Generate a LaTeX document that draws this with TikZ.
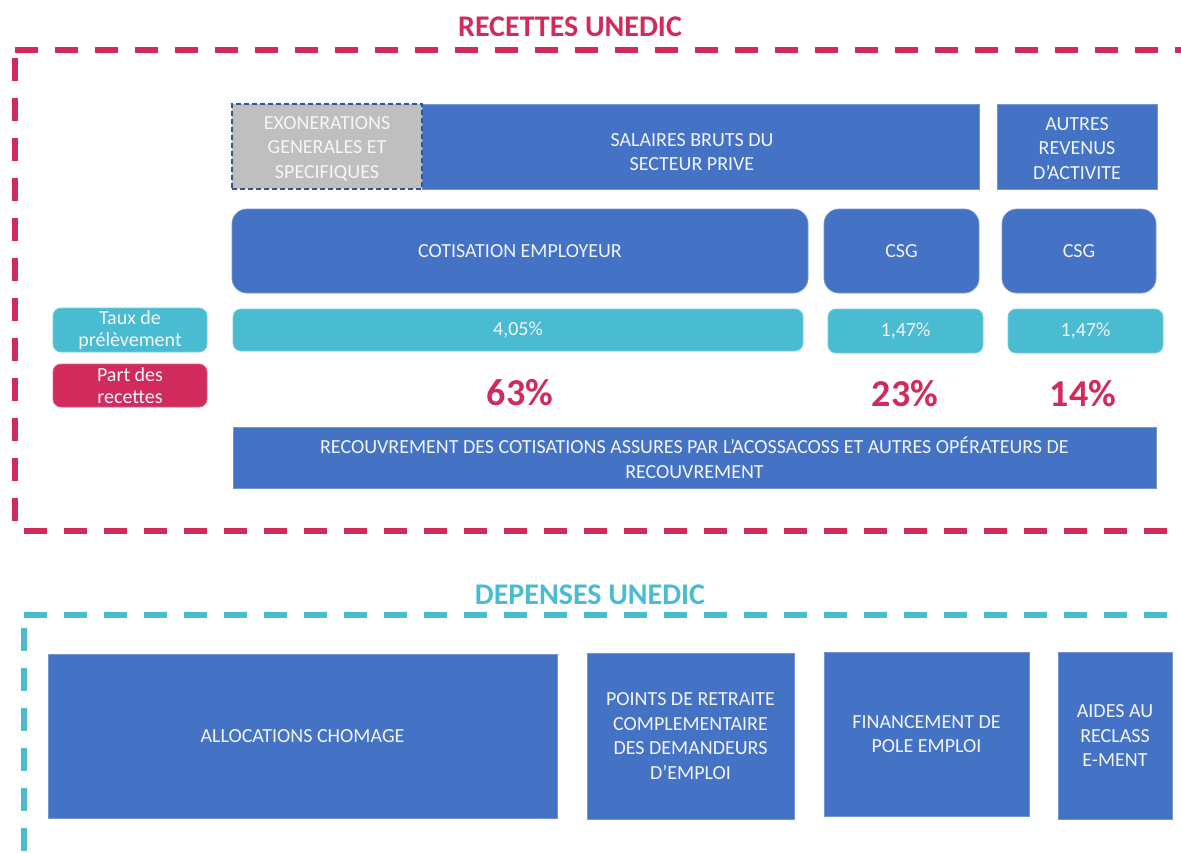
\documentclass[tikz,border=0pt]{standalone}
\usepackage{fontspec}
\setmainfont{Carlito}
\definecolor{ublue}{HTML}{4472C4}
\definecolor{uteal}{HTML}{4ABCD1}
\definecolor{ured}{HTML}{D12B5E}
\definecolor{ugray}{HTML}{BFBFBF}
\definecolor{udark}{HTML}{2F5597}
\definecolor{utxt}{HTML}{F2F4FA}
\tikzset{
  body/.style={font=\fontsize{20}{24.5}\selectfont, align=center, text=utxt},
  bluebox/.style={body, fill=ublue, draw=ublue!75!white, line width=0.8pt, inner sep=0pt},
  roundbox/.style={bluebox, rounded corners=15pt},
  tealbox/.style={body, fill=uteal, draw=uteal!75!white, line width=0.8pt, rounded corners=8pt, inner sep=0pt},
  redbox/.style={body, fill=ured, draw=ured!75!white, line width=0.8pt, rounded corners=8pt, inner sep=0pt},
  exonbox/.style={body, fill=ugray, draw=udark, dash pattern=on 5pt off 3pt, line width=2pt, inner sep=0pt, text=white!93!gray},
  pct/.style={font=\fontsize{38}{40}\selectfont\bfseries, text=ured},
  title/.style={font=\fontsize{30}{32}\selectfont\bfseries},
  frame/.style={line width=5.5pt, dash pattern=on 23pt off 17pt}
}
\begin{document}
\begin{tikzpicture}[x=1pt,y=-1pt]
\useasboundingbox (0,0) rectangle (1181,852);
% recettes frame
\node[title, text=ured] (t1) at (570,27) {RECETTES UNEDIC};
\coordinate (rA) at (15,50);
\coordinate (rB) at (1181,50);
\coordinate (rC) at (15,58);
\coordinate (rD) at (15,527);
\coordinate (rE) at (24,531);
\coordinate (rF) at (1181,531);
\draw[frame, ured] (rA) -- (rB);
\draw[frame, ured] (rC) -- (rD);
\draw[frame, ured] (rE) -- (rF);
% row 1
\node[bluebox, minimum width=557pt, minimum height=85pt] (sal) at (700.5,146.5) {};
\node[body] (saltxt) at (692,152) {SALAIRES BRUTS DU\\SECTEUR PRIVE};
\node[exonbox, minimum width=190pt, minimum height=85pt] (exon) at (327,146.5) {};
\node[body, text=white!93!gray] (exontxt) at (327,148.5) {EXONERATIONS\\GENERALES ET\\SPECIFIQUES};
\node[bluebox, minimum width=160pt, minimum height=85pt] (aut) at (1077,146.5) {};
\node[body] (auttxt) at (1077,148.5) {AUTRES\\REVENUS\\D’ACTIVITE};
% row 2
\node[roundbox, minimum width=576pt, minimum height=84pt] (cot) at (520,251) {COTISATION EMPLOYEUR};
\node[roundbox, minimum width=155pt, minimum height=84pt] (csg1) at (901.5,251) {CSG};
\node[roundbox, minimum width=154pt, minimum height=84pt] (csg2) at (1079,251) {CSG};
% row 3
\node[tealbox, minimum width=154pt, minimum height=44pt] (taux) at (130,330) {Taux de\\[-3pt]prélèvement};
\node[tealbox, minimum width=570pt, minimum height=42pt] (r1) at (518,330) {4,05\%};
\node[tealbox, minimum width=155pt, minimum height=44pt] (r2) at (905.5,331) {1,47\%};
\node[tealbox, minimum width=155pt, minimum height=44pt] (r3) at (1085.5,331) {1,47\%};
% row 4
\node[redbox, minimum width=154pt, minimum height=43pt] (part) at (130,385.5) {Part des\\[-3pt]recettes};
\node[pct] (p1) at (520,393) {63\%};
\node[pct] (p2) at (905,394) {23\%};
\node[pct] (p3) at (1083,394) {14\%};
% row 5
\node[bluebox, minimum width=923pt, minimum height=61pt] (rec) at (694.5,457.5) {RECOUVREMENT DES COTISATIONS ASSURES PAR L’ACOSSACOSS ET AUTRES OPÉRATEURS DE\\RECOUVREMENT};
% depenses frame
\node[title, text=uteal] (t2) at (590,595) {DEPENSES UNEDIC};
\coordinate (dA) at (24,615);
\coordinate (dB) at (1181,615);
\coordinate (dC) at (24,628);
\coordinate (dD) at (24,852);
\draw[frame, uteal] (dA) -- (dB);
\draw[frame, uteal] (dC) -- (dD);
\node[bluebox, minimum width=509pt, minimum height=164pt] (alloc) at (302.5,736) {ALLOCATIONS CHOMAGE};
\node[bluebox, minimum width=207pt, minimum height=166pt] (pts) at (690.5,736) {POINTS DE RETRAITE\\COMPLEMENTAIRE\\DES DEMANDEURS\\D’EMPLOI};
\node[bluebox, minimum width=205pt, minimum height=164pt] (fin) at (926.5,734) {FINANCEMENT DE\\POLE EMPLOI};
\node[bluebox, minimum width=114pt, minimum height=167pt] (aid) at (1115,735.5) {AIDES AU\\RECLASS\\E-MENT};
\end{tikzpicture}
\end{document}
